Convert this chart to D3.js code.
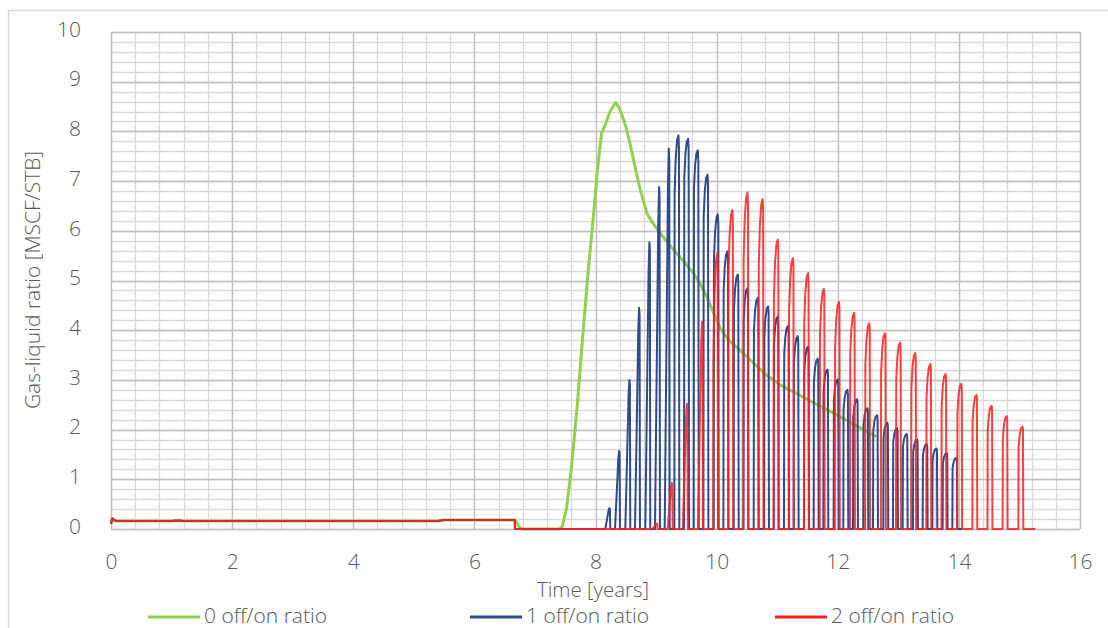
<!DOCTYPE html>
<html>
<head>
<meta charset="utf-8">
<script src="https://cdn.jsdelivr.net/npm/d3@7/dist/d3.min.js"></script>
<style>
  html, body { margin: 0; padding: 0; background: #fff; }
  svg { display: block; }
  text { font-family: "Open Sans", Lato, sans-serif; font-weight: 300; fill: #595959; }
</style>
</head>
<body>
<svg id="chart" width="1108" height="628"></svg>
<script>
// ---------------- data ----------------
const xTickValues = [0, 2, 4, 6, 8, 10, 12, 14, 16];
const yTickValues = [0, 1, 2, 3, 4, 5, 6, 7, 8, 9, 10];
const seriesNames = ["0 off/on ratio", "1 off/on ratio", "2 off/on ratio"];
const seriesColors = ["#92D050", "#2F4B8C", "#FF1E1E"];

// shared early plateau (years, MSCF/STB)
const plateauTime  = [0, 0.02, 0.08, 1.0, 1.1, 1.2, 5.4, 5.5, 6.665];
const plateauValue = [0.10, 0.21, 0.16, 0.16, 0.17, 0.16, 0.16, 0.18, 0.18];

// 0 off/on ratio: continuous curve
const greenTime  = [6.68, 6.75, 6.80, 7.40, 7.45, 7.52, 7.60, 7.70, 7.80, 7.88, 7.96, 8.03, 8.10, 8.16, 8.24, 8.33, 8.38, 8.43, 8.50, 8.57, 8.65, 8.74, 8.85, 8.95, 9.07, 9.20, 9.34, 9.48, 9.62, 9.72, 9.84, 9.95, 10.06, 10.20, 10.40, 10.60, 10.80, 11.05, 11.30, 11.60, 11.90, 12.20, 12.45, 12.64];
const greenValue = [0.17, 0.02, 0.00, 0.00, 0.05, 0.40, 1.20, 2.50, 4.04, 5.20, 6.22, 7.20, 7.96, 8.13, 8.40, 8.58, 8.50, 8.36, 8.10, 7.76, 7.30, 6.82, 6.35, 6.15, 5.95, 5.75, 5.55, 5.35, 5.14, 4.95, 4.67, 4.35, 4.04, 3.80, 3.58, 3.35, 3.12, 2.90, 2.74, 2.54, 2.35, 2.15, 1.98, 1.86];

// 1 off/on ratio: cycle peak times, peak values, fraction reached at switch-on
const bluePeakTime  = [8.23, 8.39, 8.56, 8.72, 8.89, 9.05, 9.21, 9.37, 9.53, 9.69, 9.85, 10.02, 10.18, 10.35, 10.51, 10.68, 10.85, 11.01, 11.18, 11.34, 11.51, 11.67, 11.83, 12.00, 12.16, 12.32, 12.49, 12.65, 12.82, 12.98, 13.14, 13.31, 13.47, 13.63, 13.80, 13.96];
const bluePeakValue = [0.42, 1.57, 3.00, 4.45, 5.77, 6.88, 7.65, 7.92, 7.85, 7.62, 7.13, 6.33, 5.59, 5.12, 4.85, 4.65, 4.48, 4.28, 4.09, 3.88, 3.67, 3.43, 3.21, 3.01, 2.80, 2.61, 2.43, 2.29, 2.14, 2.03, 1.91, 1.80, 1.71, 1.62, 1.53, 1.43];
const blueJump      = [0, 0, 0, 0, 0, 0, 0, 0.85, 0.9, 0.9, 0.88, 0.86, 0.86, 0.86, 0.86, 0.86, 0.86, 0.86, 0.86, 0.86, 0.86, 0.86, 0.86, 0.86, 0.86, 0.86, 0.86, 0.86, 0.86, 0.86, 0.86, 0.86, 0.86, 0.86, 0.86, 0.86];
const blueEnd = 14.05;

// 2 off/on ratio
const redPeakTime  = [9.01, 9.26, 9.51, 9.76, 10.01, 10.26, 10.51, 10.76, 11.01, 11.26, 11.51, 11.77, 12.02, 12.27, 12.52, 12.78, 13.03, 13.28, 13.53, 13.78, 14.04, 14.29, 14.54, 14.79, 15.05];
const redPeakValue = [0.11, 0.93, 2.52, 4.17, 5.55, 6.42, 6.77, 6.64, 5.82, 5.45, 5.15, 4.83, 4.57, 4.35, 4.14, 3.94, 3.75, 3.54, 3.32, 3.12, 2.92, 2.70, 2.48, 2.27, 2.06];
const redJump      = [0, 0, 0, 0, 0.6, 0.8, 0.8, 0.8, 0.8, 0.8, 0.8, 0.8, 0.8, 0.8, 0.8, 0.8, 0.8, 0.8, 0.8, 0.8, 0.8, 0.8, 0.8, 0.8, 0.8];
const redEnd = 15.26;

// ---------------- build point lists ----------------
function plateau() {
  return plateauTime.map((t, i) => [t, plateauValue[i]]);
}
function cyclic(peakT, peakV, jump, endT) {
  const pts = plateau();
  pts.push([6.67, 0]);
  const on = 0.068;
  peakT.forEach((tp, i) => {
    const P = peakV[i], j = jump[i], t0 = tp - on;
    pts.push([t0, 0]);
    if (j > 0) {
      pts.push([t0 + 0.004, j * P]);
      pts.push([t0 + 0.022, (j + (1 - j) * 0.6) * P]);
      pts.push([t0 + 0.045, (j + (1 - j) * 0.92) * P]);
    } else {
      pts.push([t0 + on * 0.45, 0.5 * P]);
      pts.push([t0 + on * 0.8, 0.9 * P]);
    }
    pts.push([tp, P]);
    pts.push([tp + 0.008, 0.97 * P]);
    pts.push([tp + 0.014, 0]);
  });
  pts.push([endT, 0]);
  return pts;
}
const greenPts = plateau().concat(greenTime.map((t, i) => [t, greenValue[i]]));
const bluePts = cyclic(bluePeakTime, bluePeakValue, blueJump, blueEnd);
const redPts = cyclic(redPeakTime, redPeakValue, redJump, redEnd);

// ---------------- layout ----------------
const svg = d3.select("#chart");
const L = 111, R = 1080, T = 32, B = 529;
const x = d3.scaleLinear().domain([0, 16]).range([L, R]);
const y = d3.scaleLinear().domain([0, 10]).range([B, T]);

// outer chart border
svg.append("path").attr("d", "M8.5,628 L8.5,10.5 L1108,10.5")
  .attr("fill", "none").attr("stroke", "#D9D9D9").attr("stroke-width", 1.5);

// grid
const g = svg.append("g");
const minorX = d3.range(0, 16.001, 0.4);
const minorY = d3.range(0, 10.001, 0.2);
g.selectAll(".mx").data(minorX).enter().append("line")
  .attr("x1", d => Math.round(x(d)) + 0.5).attr("x2", d => Math.round(x(d)) + 0.5)
  .attr("y1", T).attr("y2", B).attr("stroke", "#D9D9D9").attr("stroke-width", 1.3);
g.selectAll(".my").data(minorY).enter().append("line")
  .attr("y1", d => Math.round(y(d)) + 0.5).attr("y2", d => Math.round(y(d)) + 0.5)
  .attr("x1", L).attr("x2", R).attr("stroke", "#D9D9D9").attr("stroke-width", 1.3);
g.selectAll(".MX").data(xTickValues).enter().append("line")
  .attr("x1", d => Math.round(x(d)) + 0.5).attr("x2", d => Math.round(x(d)) + 0.5)
  .attr("y1", T).attr("y2", B).attr("stroke", "#BFBFBF").attr("stroke-width", 1.3);
g.selectAll(".MY").data(yTickValues).enter().append("line")
  .attr("y1", d => Math.round(y(d)) + 0.5).attr("y2", d => Math.round(y(d)) + 0.5)
  .attr("x1", L).attr("x2", R).attr("stroke", "#BFBFBF").attr("stroke-width", 1.3);

// axes (labels only, via d3 axis)
const xAxis = svg.append("g").attr("transform", `translate(0,${B})`)
  .call(d3.axisBottom(x).tickValues(xTickValues).tickSize(0).tickPadding(25));
const yAxis = svg.append("g").attr("transform", `translate(${L},0)`)
  .call(d3.axisLeft(y).tickValues(yTickValues).tickSize(0).tickPadding(30));
[xAxis, yAxis].forEach(a => {
  a.select(".domain").remove();
  a.selectAll("text").attr("font-size", 21).attr("font-family", "'Open Sans', Lato, sans-serif")
    .attr("font-weight", 300).attr("fill", "#595959");
});
yAxis.selectAll("text").attr("dy", "0.2em");

// series
const line = d3.line().x(d => x(d[0])).y(d => y(d[1]));
const seriesPts = [greenPts, bluePts, redPts];
const widths = [3, 2, 2];
const opac = [1, 1, 0.85];
seriesPts.forEach((pts, i) => {
  svg.append("path").datum(pts).attr("d", line)
    .attr("fill", "none").attr("stroke", seriesColors[i])
    .attr("stroke-width", widths[i]).attr("stroke-opacity", opac[i])
    .attr("stroke-linejoin", "round");
});

// axis titles
svg.append("text").attr("x", 593).attr("y", 596.5).attr("text-anchor", "middle")
  .attr("font-size", 20.5).text("Time [years]");
svg.append("text").attr("transform", "translate(40,280) rotate(-90)")
  .attr("text-anchor", "middle").attr("font-size", 21).text("Gas-liquid ratio [MSCF/STB]");

// legend
const legX = [148, 470, 775];
seriesNames.forEach((n, i) => {
  svg.append("line").attr("x1", legX[i]).attr("x2", legX[i] + 52)
    .attr("y1", 617).attr("y2", 617).attr("stroke", seriesColors[i]).attr("stroke-width", 3);
  svg.append("text").attr("x", legX[i] + 56).attr("y", 622.5).attr("font-size", 21).text(n);
});
</script>
</body>
</html>
